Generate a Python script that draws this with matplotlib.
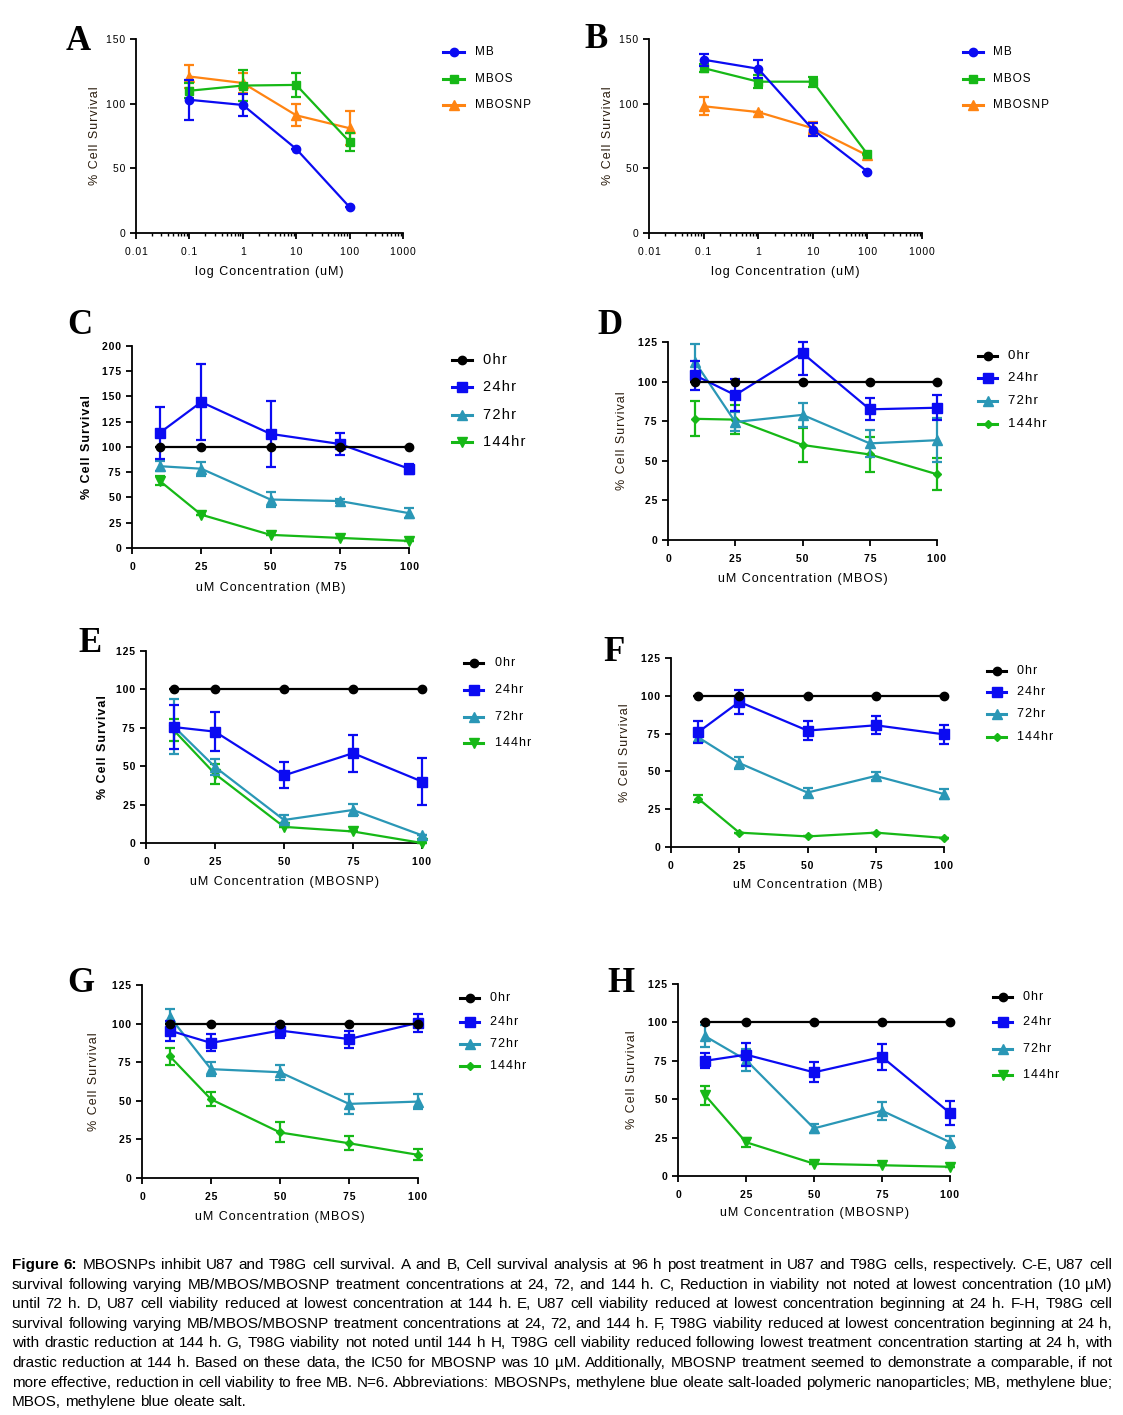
import numpy as np
import matplotlib
matplotlib.use("Agg")
import matplotlib.pyplot as plt
from matplotlib.lines import Line2D
from matplotlib.font_manager import FontProperties, findfont

# ---- data ----
log_conc = [0.1, 1, 10, 100]
a_mb = [103, 99, 65, 20]
a_mb_err = [15.5, 8.5, 0, 0]
a_mbos = [110, 114, 114.5, 70.5]
a_mbos_err = [6, 12, 9.5, 7]
a_mbosnp = [121, 116, 91, 81]
a_mbosnp_err = [9, 8, 8.5, 13]

b_mb = [134, 127, 80, 47.5]
b_mb_err = [4.5, 7, 5, 0]
b_mbos = [127.5, 117, 117, 61]
b_mbos_err = [3, 5, 4, 0]
b_mbosnp = [98, 93.5, 81, 60]
b_mbosnp_err = [7, 0, 5, 0]

conc = [10, 25, 50, 75, 100]
ctrl_0hr = [100, 100, 100, 100, 100]
ctrl_0hr_err = [0, 0, 0, 0, 0]

c_24 = [114, 144.5, 113, 103, 78.5]
c_24_err = [25.5, 37.5, 32.5, 10.5, 5]
c_72 = [81, 78.5, 48, 46.5, 34.5]
c_72_err = [5, 7, 7, 2, 5]
c_144 = [66.5, 33, 13, 10, 7]
c_144_err = [4.5, 0, 0, 0, 0]

d_24 = [104, 91.5, 118, 82.5, 83.5]
d_24_err = [9, 10, 14, 7, 8]
d_72 = [112.5, 74.5, 79, 61, 63]
d_72_err = [11.5, 6, 7.5, 8.5, 14]
d_144 = [76.5, 76, 60, 54, 41.5]
d_144_err = [11, 9, 11, 11, 10]

e_24 = [75.5, 72.5, 44, 58.5, 40]
e_24_err = [14.5, 12.5, 8.5, 12, 15.5]
e_72 = [76, 49.5, 15, 21.5, 5]
e_72_err = [18, 5.5, 3, 4, 0]
e_144 = [73.5, 45, 10.5, 7.5, 0]
e_144_err = [7, 6.5, 0, 0, 0]

f_24 = [76, 96, 77, 80.5, 74.5]
f_24_err = [7.5, 8, 6.5, 6, 6.5]
f_72 = [72.5, 55.5, 36, 47, 35]
f_72_err = [3, 4, 3, 2.5, 3.5]
f_144 = [32, 9.5, 7, 9.5, 6]
f_144_err = [2.5, 0, 0, 0, 0]

g_24 = [95.5, 87.5, 95.5, 90, 100.5]
g_24_err = [6.5, 5.5, 5, 5.5, 6]
g_72 = [104.5, 70.5, 68.5, 48, 49.5]
g_72_err = [5, 4.5, 5, 6.5, 5]
g_144 = [79, 51, 29.5, 22.5, 15]
g_144_err = [5.5, 4.5, 6.5, 4.5, 3.5]

h_24 = [75, 79, 67.5, 77.5, 41]
h_24_err = [5, 7.5, 6.5, 8.5, 8]
h_72 = [91, 75.5, 31, 42.5, 22]
h_72_err = [7, 7, 3, 6, 4]
h_144 = [52.5, 22, 8, 7, 6]
h_144_err = [6, 3, 0, 0, 0]

drug_labels = ["MB", "MBOS", "MBOSNP"]
time_labels = ["0hr", "24hr", "72hr", "144hr"]

caption_lines = [
    "Figure 6: MBOSNPs inhibit U87 and T98G cell survival. A and B, Cell survival analysis at 96 h post treatment in U87 and T98G cells, respectively. C-E, U87 cell",
    "survival following varying MB/MBOS/MBOSNP treatment concentrations at 24, 72, and 144 h. C, Reduction in viability not noted at lowest concentration (10 \u00b5M)",
    "until 72 h. D, U87 cell viability reduced at lowest concentration at 144 h. E, U87 cell viability reduced at lowest concentration beginning at 24 h. F-H, T98G cell",
    "survival following varying MB/MBOS/MBOSNP treatment concentrations at 24, 72, and 144 h. F, T98G viability reduced at lowest concentration beginning at 24 h,",
    "with drastic reduction at 144 h. G, T98G viability not noted until 144 h H, T98G cell viability reduced following lowest treatment concentration starting at 24 h, with",
    "drastic reduction at 144 h. Based on these data, the IC50 for MBOSNP was 10 \u00b5M. Additionally, MBOSNP treatment seemed to demonstrate a comparable, if not",
    "more effective, reduction in cell viability to free MB. N=6. Abbreviations: MBOSNPs, methylene blue oleate salt-loaded polymeric nanoparticles; MB, methylene blue;",
    "MBOS, methylene blue oleate salt.",
]

# ---- styling ----
W, H = 1123, 1415
plt.rcParams['font.family'] = ['Liberation Sans', 'DejaVu Sans']
fig = plt.figure(figsize=(W / 100, H / 100), dpi=100)

BLUE = '#0b0bf2'
GREEN = '#16b816'
ORANGE = '#ff8412'
TEAL = '#2a97b6'
BLACK = '#000000'
YLAB = '#2b1d0e'


def spaced(s):
    return '\u200a'.join(s)


def px_axes(left, right, top, bottom):
    return fig.add_axes([left / W, 1 - bottom / H, (right - left) / W, (bottom - top) / H])


def draw_series(ax, x, y, err, color, marker, ms, ymax, z):
    y = np.asarray(y, float)
    err = np.asarray(err, float)
    yerr = [err, np.minimum(err, ymax - y)]
    line, caps, bars = ax.errorbar(x, y, yerr=yerr, color=color, marker=marker, ms=ms,
                                   lw=1.6, elinewidth=1.6, capsize=3.5, capthick=1.6, zorder=z)
    for art in [line, *caps, *bars]:
        art.set_clip_on(False)


def style_axes(ax, tick_size, tick_weight):
    for s in ['top', 'right']:
        ax.spines[s].set_visible(False)
    for s in ['left', 'bottom']:
        ax.spines[s].set_linewidth(1.3)
    ax.tick_params(which='major', direction='out', length=4, width=1.3, labelsize=tick_size)
    ax.tick_params(which='minor', direction='out', length=2.5, width=1.0)
    ax.tick_params(axis='x', pad=6)
    ax.tick_params(axis='y', pad=4)
    for lab in ax.get_xticklabels() + ax.get_yticklabels():
        lab.set_fontweight(tick_weight)


def draw_legend(x0, x1, xt, ys, labels, styles, size, weight):
    for y, lab, (color, marker, ms) in zip(ys, labels, styles):
        fy = 1 - y / H
        fig.add_artist(Line2D([x0 / W, x1 / W], [fy, fy], transform=fig.transFigure,
                              color=color, lw=2.2))
        fig.add_artist(Line2D([(x0 + x1) / 2 / W], [fy], transform=fig.transFigure,
                              color=color, marker=marker, ms=ms, lw=0))
        fig.text(xt / W, fy, spaced(lab), fontsize=size, fontweight=weight, va='center', ha='left')


def set_labels(ax, box, xlabel, ylabel, ylab_x, xlab_y, size, yweight, ycolor):
    left, right, top, bottom = box
    ax.set_xlabel(spaced(xlabel), fontsize=size)
    ax.set_ylabel(spaced(ylabel), fontsize=size, fontweight=yweight, color=ycolor)
    ax.yaxis.set_label_coords((ylab_x - left) / (right - left), 0.5)
    ax.xaxis.set_label_coords(0.5, (bottom - xlab_y) / (bottom - top))
    ax.xaxis.label.set_va('center')
    ax.yaxis.label.set_va('center')


def panel_letter(x, y, letter):
    fig.text(x / W, 1 - y / H, letter, fontsize=25, fontweight='bold', va='center', ha='left',
             family=['Liberation Serif', 'DejaVu Serif'])


# ---- panels A and B (log scale) ----
drug_styles = [(BLUE, 'o', 6), (GREEN, 's', 6), (ORANGE, '^', 6.5)]
log_ticks = [0.01, 0.1, 1, 10, 100, 1000]
log_tick_labels = ["0.01", "0.1", "1", "10", "100", "1000"]

for box, letter_pos, data, leg in [
    ((136, 403, 39, 233), (66, 42, 'A'),
     [(a_mb, a_mb_err), (a_mbos, a_mbos_err), (a_mbosnp, a_mbosnp_err)],
     (443, 464, 475)),
    ((649, 922, 39, 233), (584, 40, 'B'),
     [(b_mb, b_mb_err), (b_mbos, b_mbos_err), (b_mbosnp, b_mbosnp_err)],
     (963, 983, 993)),
]:
    ax = px_axes(*box)
    zs = [5, 4, 3]
    for (y, e), (c, m, ms), z in zip(data, drug_styles, zs):
        draw_series(ax, log_conc, y, e, c, m, ms, 150, z)
    ax.set_xscale('log')
    ax.set_xlim(0.01, 1000)
    ax.set_ylim(0, 150)
    ax.set_xticks(log_ticks)
    ax.set_xticklabels([spaced(t) for t in log_tick_labels])
    ax.set_yticks([0, 50, 100, 150])
    ax.set_yticklabels([spaced(str(t)) for t in [0, 50, 100, 150]])
    style_axes(ax, 7.5, 'normal')
    set_labels(ax, box, "log Concentration (uM)", "% Cell Survival",
               box[0] - 41, 272, 9, 'normal', YLAB)
    panel_letter(*letter_pos)
    draw_legend(leg[0], leg[1], leg[2], [52, 79, 105], drug_labels, drug_styles, 8.5, 'normal')

# ---- panels C-H (time courses) ----
panels = [
    dict(box=(132, 409, 346, 548), ymax=200, yticks=list(range(0, 201, 25)), letter=(67, 326, 'C'),
         series=[(c_24, c_24_err), (c_72, c_72_err), (c_144, c_144_err)], m144=('v', 6.5),
         xlabel="uM Concentration (MB)", ylab_x=87, xlab_y=588, yweight='bold', ycolor=BLACK,
         leg=(452, 472, 483, [360, 387, 415, 442]), leg_size=10.5, leg_weight='normal'),
    dict(box=(668, 937, 342, 540), ymax=125, yticks=list(range(0, 126, 25)), letter=(597, 325, 'D'),
         series=[(d_24, d_24_err), (d_72, d_72_err), (d_144, d_144_err)], m144=('D', 4),
         xlabel="uM Concentration (MBOS)", ylab_x=622, xlab_y=579, yweight='normal', ycolor=YLAB,
         leg=(978, 997, 1008, [356, 378, 401, 424]), leg_size=9.5, leg_weight='normal'),
    dict(box=(146, 422, 651, 843), ymax=125, yticks=list(range(0, 126, 25)), letter=(78, 644, 'E'),
         series=[(e_24, e_24_err), (e_72, e_72_err), (e_144, e_144_err)], m144=('v', 6.5),
         xlabel="uM Concentration (MBOSNP)", ylab_x=103, xlab_y=882, yweight='bold', ycolor=BLACK,
         leg=(464, 483, 495, [663, 690, 717, 743]), leg_size=9, leg_weight='normal'),
    dict(box=(671, 944, 658, 847), ymax=125, yticks=list(range(0, 126, 25)), letter=(603, 652, 'F'),
         series=[(f_24, f_24_err), (f_72, f_72_err), (f_144, f_144_err)], m144=('D', 4),
         xlabel="uM Concentration (MB)", ylab_x=625, xlab_y=885, yweight='normal', ycolor=YLAB,
         leg=(987, 1006, 1017, [671, 692, 714, 737]), leg_size=9, leg_weight='normal'),
    dict(box=(142, 418, 985, 1178), ymax=125, yticks=list(range(0, 126, 25)), letter=(67, 984, 'G'),
         series=[(g_24, g_24_err), (g_72, g_72_err), (g_144, g_144_err)], m144=('D', 4),
         xlabel="uM Concentration (MBOS)", ylab_x=94, xlab_y=1217, yweight='normal', ycolor=YLAB,
         leg=(460, 479, 490, [998, 1022, 1044, 1066]), leg_size=9, leg_weight='normal'),
    dict(box=(678, 950, 984, 1176), ymax=125, yticks=list(range(0, 126, 25)), letter=(607, 984, 'H'),
         series=[(h_24, h_24_err), (h_72, h_72_err), (h_144, h_144_err)], m144=('v', 6.5),
         xlabel="uM Concentration (MBOSNP)", ylab_x=632, xlab_y=1213, yweight='normal', ycolor=YLAB,
         leg=(993, 1012, 1023, [997, 1022, 1049, 1075]), leg_size=9, leg_weight='normal'),
]

for p in panels:
    ax = px_axes(*p['box'])
    styles = [(BLACK, 'o', 6), (BLUE, 's', 6.5), (TEAL, '^', 6.5), (GREEN, p['m144'][0], p['m144'][1])]
    all_series = [(ctrl_0hr, ctrl_0hr_err)] + p['series']
    zs = [6, 5, 4, 3]
    for (y, e), (c, m, ms), z in zip(all_series, styles, zs):
        draw_series(ax, conc, y, e, c, m, ms, p['ymax'], z)
    ax.set_xlim(0, 100)
    ax.set_ylim(0, p['ymax'])
    ax.set_xticks([0, 25, 50, 75, 100])
    ax.set_xticklabels([spaced(str(t)) for t in [0, 25, 50, 75, 100]])
    ax.set_yticks(p['yticks'])
    ax.set_yticklabels([spaced(str(t)) for t in p['yticks']])
    style_axes(ax, 7.5, 'bold')
    set_labels(ax, p['box'], p['xlabel'], "% Cell Survival", p['ylab_x'], p['xlab_y'], 9,
               p['yweight'], p['ycolor'])
    panel_letter(*p['letter'])
    x0, x1, xt, ys = p['leg']
    draw_legend(x0, x1, xt, ys, time_labels, styles, p['leg_size'], p['leg_weight'])

# ---- caption, justified word by word ----
cap_family = 'Liberation Sans Narrow'
try:
    findfont(FontProperties(family=cap_family), fallback_to_default=False)
except ValueError:
    cap_family = 'Liberation Sans'
cap_size = 11
fp_reg = FontProperties(family=cap_family, size=cap_size)
fp_bold = FontProperties(family=cap_family, size=cap_size, weight='bold')
renderer = fig.canvas.get_renderer()


def text_w(s, fp):
    return renderer.get_text_width_height_descent(s, fp, ismath=False)[0]


space_w = text_w('a a', fp_reg) - text_w('aa', fp_reg)
x_left, x_right = 12, 1112
for i, line in enumerate(caption_lines):
    words = line.split(' ')
    props = [fp_bold if (i == 0 and j < 2) else fp_reg for j in range(len(words))]
    widths = [text_w(w, fp) for w, fp in zip(words, props)]
    if i < len(caption_lines) - 1:
        gap = (x_right - x_left - sum(widths)) / (len(words) - 1)
    else:
        gap = space_w
    base = 1269 + 19.6 * i
    x = x_left
    for w, fp, wd in zip(words, props, widths):
        fig.text(x / W, 1 - base / H, w, fontproperties=fp, va='baseline', ha='left')
        x += wd + gap

fig.savefig("out.png", dpi=100)
